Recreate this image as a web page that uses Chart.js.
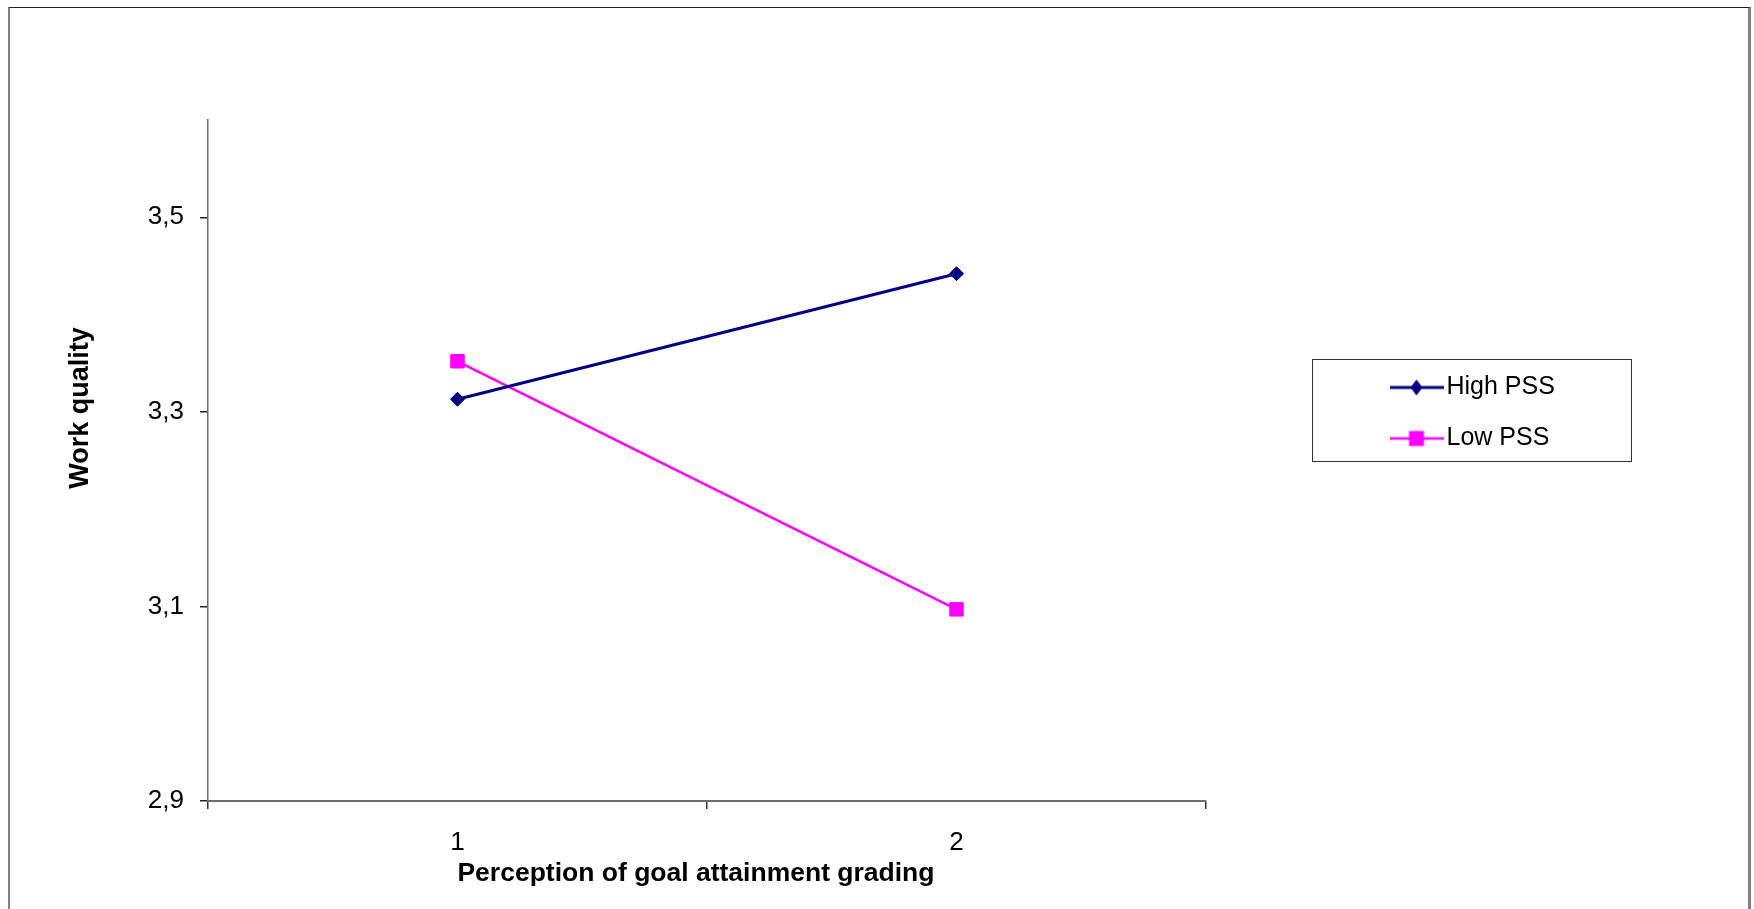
<!DOCTYPE html>
<html>
<head>
<meta charset="utf-8">
<script src="https://cdn.jsdelivr.net/npm/chart.js@4.4.0/dist/chart.umd.min.js"></script>
<style>
  html, body { margin: 0; padding: 0; background: #fff; }
  #wrap { position: relative; width: 1754px; height: 909px; overflow: hidden; }
  #chart { position: absolute; left: 0; top: 0; }
  /* Rahmen wie im Original: oben, links, rechts – unten offen */
  #frame {
    position: absolute; left: 8px; top: 7px; width: 1738px; height: 940px;
    border-top: 1px solid #222; border-left: 2px solid #808080; border-right: 3px solid #808080;
    pointer-events: none;
  }
</style>
</head>
<body>
<div id="wrap">
  <canvas id="chart" width="1754" height="909"></canvas>
  <div id="frame"></div>
</div>
<script>
// Daten
const categories = ['1', '2'];
const highPSS = [3.313, 3.442];
const lowPSS = [3.352, 3.097];
const yTickValues = [2.9, 3.1, 3.3, 3.5];
const yTickLabels = ['2,9', '3,1', '3,3', '3,5'];

const NAVY = '#000080';
const MAGENTA = '#FF00FF';
const FONT = 'Liberation Sans, Arial, sans-serif';

// Legendensymbol: Linie mit Marker in der Mitte
function legendIcon(color, shape) {
  const c = document.createElement('canvas');
  c.width = 54; c.height = 18;
  const g = c.getContext('2d');
  g.strokeStyle = color;
  g.fillStyle = color;
  g.lineWidth = shape === 'diamond' ? 3 : 2.5;
  g.beginPath();
  g.moveTo(0, 9); g.lineTo(54, 9);
  g.stroke();
  if (shape === 'diamond') {
    g.beginPath();
    g.moveTo(27, 1); g.lineTo(33, 9); g.lineTo(27, 17); g.lineTo(21, 9);
    g.closePath();
    g.fill();
  } else {
    g.fillRect(19.5, 1.5, 15, 15);
  }
  return c;
}
const icons = [legendIcon(NAVY, 'diamond'), legendIcon(MAGENTA, 'square')];

// Legende an feste Stelle setzen, Rahmen zeichnen
const legendPlacer = {
  id: 'legendPlacer',
  afterLayout(chart) {
    const lg = chart.legend;
    if (!lg) return;
    lg.left = 1373; lg.top = 349; lg.right = 1640; lg.bottom = 490;
    lg.width = lg.right - lg.left;
    lg.height = lg.bottom - lg.top;
  },
  afterDraw(chart) {
    const ctx = chart.ctx;
    ctx.save();
    ctx.strokeStyle = '#333';
    ctx.lineWidth = 1;
    ctx.strokeRect(1312.5, 359.5, 319, 102);
    ctx.restore();
  }
};

const ctx = document.getElementById('chart');
new Chart(ctx, {
  type: 'line',
  data: {
    labels: categories,
    datasets: [{
      label: 'High PSS',
      data: highPSS,
      borderColor: NAVY,
      backgroundColor: NAVY,
      borderWidth: 3,
      pointStyle: 'rectRot',
      pointRadius: 7,
      pointBorderWidth: 1,
      pointBackgroundColor: NAVY,
      pointBorderColor: NAVY,
      tension: 0
    }, {
      label: 'Low PSS',
      data: lowPSS,
      borderColor: MAGENTA,
      backgroundColor: MAGENTA,
      borderWidth: 2.5,
      pointStyle: 'rect',
      pointRadius: 9.5,
      pointBorderWidth: 1,
      pointBackgroundColor: MAGENTA,
      pointBorderColor: MAGENTA,
      tension: 0
    }]
  },
  options: {
    responsive: false,
    animation: false,
    layout: { padding: { left: 0, top: 120, right: 548, bottom: 0 } },
    plugins: {
      tooltip: { enabled: false },
      title: { display: false },
      legend: {
        position: 'chartArea',
        align: 'start',
        labels: {
          usePointStyle: true,
          pointStyleWidth: 35,
          boxHeight: 24,
          padding: 26,
          color: '#000',
          font: { family: FONT, size: 25 },
          generateLabels(chart) {
            const items = Chart.defaults.plugins.legend.labels.generateLabels(chart);
            items.forEach((it, i) => { it.pointStyle = icons[i]; });
            return items;
          }
        }
      }
    },
    scales: {
      x: {
        type: 'category',
        offset: true,
        afterFit(scale) { scale.height = 108; },
        border: { display: true, color: '#6e6e6e', width: 2 },
        grid: { offset: true, drawOnChartArea: false, drawTicks: true, tickLength: 8, color: '#333', lineWidth: 1.5 },
        ticks: { color: '#000', padding: 18.5, font: { family: FONT, size: 26 } },
        title: {
          display: true,
          text: 'Perception of goal attainment grading   ',
          color: '#000',
          font: { family: FONT, size: 26.5, weight: 'bold' },
          padding: { top: 0, bottom: 19.5 }
        }
      },
      y: {
        min: 2.9,
        max: 3.6,
        afterFit(scale) { scale.width = 208; },
        afterBuildTicks(scale) {
          scale.ticks = yTickValues.map(v => ({ value: v }));
        },
        border: { display: true, color: '#6e6e6e', width: 1.5 },
        grid: { drawOnChartArea: false, drawTicks: true, tickLength: 8, color: '#222', lineWidth: 1.5 },
        ticks: {
          color: '#000',
          padding: 16,
          font: { family: FONT, size: 26 },
          callback(value) {
            const i = yTickValues.findIndex(v => Math.abs(v - value) < 1e-6);
            return i >= 0 ? yTickLabels[i] : '';
          }
        },
        title: {
          display: true,
          text: '              Work quality',
          color: '#000',
          font: { family: FONT, size: 27, weight: 'bold' },
          padding: { top: 64, bottom: 0 }
        }
      }
    }
  },
  plugins: [legendPlacer]
});
</script>
</body>
</html>
